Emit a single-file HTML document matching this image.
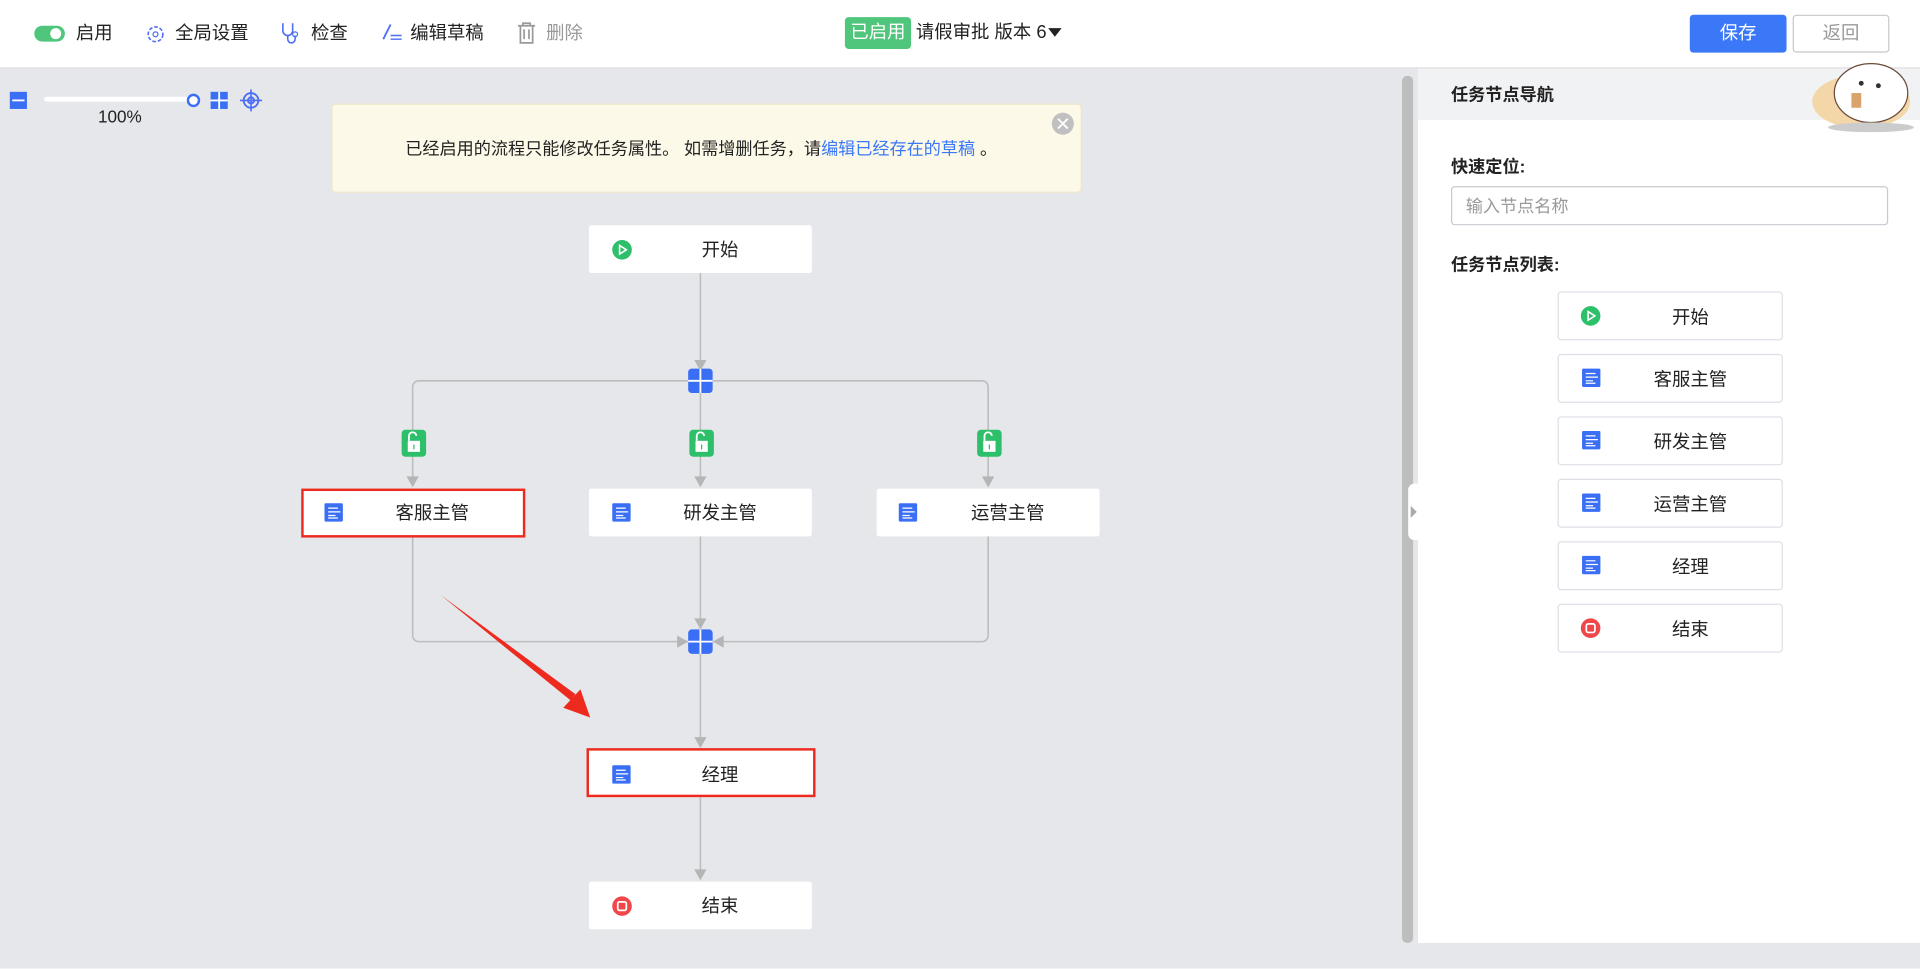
<!DOCTYPE html>
<html><head><meta charset="utf-8"><style>
html,body{margin:0;padding:0;width:1920px;height:969px;overflow:hidden;background:#fff}
#w{position:absolute;left:0;top:0;width:1568px;height:791px;transform:scale(1.22449);transform-origin:0 0;font-family:"Liberation Sans","Noto Sans CJK SC",sans-serif;color:#222}
.a{position:absolute}
.t{font-size:15px;line-height:20px;white-space:nowrap}
.li{position:absolute;left:1272px;width:182px;height:38px;border:1px solid #dcdfe6;border-radius:3px;background:#fff}
.li span{position:absolute;left:0;width:215px;text-align:center;top:9px;font-size:15px}
</style></head><body><div id="w">
<!-- top bar -->
<div class="a" style="left:0;top:0;width:1568px;height:55px;background:#fff;border-bottom:1px solid #dcdcdc"></div>
<div class="a" style="left:28px;top:21px;width:25px;height:13px;border-radius:7px;background:#4fc67c"></div>
<div class="a" style="left:41px;top:23px;width:9px;height:9px;border-radius:5px;background:#fff"></div>
<div class="a t" style="left:62px;top:18px">启用</div>
<svg class="a" style="left:118px;top:19px" width="18" height="18"><circle cx="9" cy="9" r="6" fill="none" stroke="#4b6ef5" stroke-width="1.3" stroke-dasharray="3 1.5"/><circle cx="9" cy="9" r="2" fill="none" stroke="#4b6ef5"/></svg>
<div class="a t" style="left:143px;top:18px">全局设置</div>
<svg class="a" style="left:228px;top:17px" width="20" height="20"><path d="M3 2v6a4 4 0 0 0 8 0V2M7 12v3a3 3 0 0 0 6 0v-3" fill="none" stroke="#4b6ef5" stroke-width="1.3"/><circle cx="13" cy="11" r="2" fill="none" stroke="#4b6ef5"/></svg>
<div class="a t" style="left:254px;top:18px">检查</div>
<svg class="a" style="left:310px;top:17px" width="20" height="20"><path d="M3 15L9 3" stroke="#4b6ef5" stroke-width="1.5"/><path d="M9 12h9M9 15h9" stroke="#4b6ef5" stroke-width="1.2"/></svg>
<div class="a t" style="left:335px;top:18px">编辑草稿</div>
<svg class="a" style="left:421px;top:17px" width="18" height="20"><path d="M2 4h14M6 4V2h6v2M4 4v14h10V4M7 7v8M11 7v8" fill="none" stroke="#999" stroke-width="1.4"/></svg>
<div class="a t" style="left:446px;top:18px;color:#999">删除</div>
<div class="a" style="left:690px;top:14px;width:54px;height:26px;background:#4fc67c;border-radius:3px;color:#fff;font-size:15px;line-height:26px;text-align:center">已启用</div>
<div class="a t" style="left:748px;top:17px">请假审批 版本 6</div>
<svg class="a" style="left:856px;top:22px" width="12" height="10"><path d="M0 1h11L5.5 8z" fill="#222"/></svg>
<div class="a" style="left:1380px;top:12px;width:79px;height:31px;background:#3a78f7;border-radius:3px;color:#fff;font-size:15px;line-height:31px;text-align:center">保存</div>
<div class="a" style="left:1464px;top:12px;width:77px;height:29px;border:1px solid #c8c8c8;border-radius:3px;color:#999;font-size:15px;line-height:29px;text-align:center">返回</div>
<!-- canvas -->
<div class="a" style="left:0;top:56px;width:1158px;height:735px;background:#e6e7eb"></div>
<div class="a" style="left:1158px;top:770px;width:410px;height:21px;background:#e6e7eb"></div>
<div class="a" style="left:1145px;top:62px;width:9px;height:708px;background:#bdbdbd;border-radius:4px"></div>
<!-- right panel -->
<div class="a" style="left:1158px;top:56px;width:410px;height:714px;background:#fff"></div>
<div class="a" style="left:1158px;top:56px;width:410px;height:42px;background:#f1f2f4"></div>
<div class="a" style="left:1185px;top:67px;font-size:14px;font-weight:bold;line-height:20px">任务节点导航</div>
<div class="a" style="left:1185px;top:126px;font-size:14px;font-weight:bold;line-height:20px">快速定位:</div>
<div class="a" style="left:1185px;top:152px;width:355px;height:30px;border:1px solid #c8cad0;border-radius:3px"></div>
<div class="a" style="left:1197px;top:158px;font-size:14px;color:#999;line-height:20px">输入节点名称</div>
<div class="a" style="left:1185px;top:206px;font-size:14px;font-weight:bold;line-height:20px">任务节点列表:</div>
<div class="a" style="left:1150px;top:395px;width:10px;height:46px;background:#fff;border-radius:5px 0 0 5px"></div>
<svg class="a" style="left:1152px;top:413px" width="6" height="10"><path d="M0 0l5 5-5 5z" fill="#aaa"/></svg>
<!-- avatar -->
<svg class="a" style="left:1478px;top:38px" width="90" height="70"><ellipse cx="42" cy="45" rx="40" ry="22" fill="#f3d7a8"/><ellipse cx="50" cy="38" rx="30" ry="24" fill="#fff" stroke="#6a4a3a" stroke-width="1"/><circle cx="42" cy="30" r="2" fill="#333"/><circle cx="56" cy="32" r="2" fill="#333"/><rect x="34" y="38" width="8" height="12" fill="#d9a36b"/><ellipse cx="50" cy="66" rx="35" ry="4" fill="#ccc"/></svg>
<div class="li" style="top:238px"><span>开始</span></div>
<div class="li" style="top:289px"><span>客服主管</span></div>
<div class="li" style="top:340px"><span>研发主管</span></div>
<div class="li" style="top:391px"><span>运营主管</span></div>
<div class="li" style="top:442px"><span>经理</span></div>
<div class="li" style="top:493px"><span>结束</span></div>
<svg class="a" style="left:0;top:0" width="1568" height="791">
<defs>
<g id="doc"><rect x="0" y="0" width="15" height="15" rx="1" fill="#3a6ff5"/><path d="M3 4h8M3 7h10M3 10h6M3 12h8" stroke="#fff" stroke-width="1"/></g>
<g id="st"><circle cx="0" cy="0" r="8" fill="#2dbf6a"/><path d="M-2 -3.5v7l5.5-3.5z" fill="none" stroke="#fff" stroke-width="1.3"/></g>
<g id="en"><circle cx="0" cy="0" r="8" fill="#f0474a"/><rect x="-3.5" y="-3.5" width="7" height="7" rx="1.5" fill="none" stroke="#fff" stroke-width="1.4"/></g>
<g id="gw"><rect x="-10" y="-10" width="20" height="20" rx="3" fill="#3a6ff5"/><path d="M-10 0h20M0 -10v20" stroke="#fff" stroke-width="1.5"/></g>
<g id="lk"><rect x="-10" y="-11" width="20" height="22" rx="3" fill="#2dbf6a"/><rect x="-5" y="-2" width="10" height="9" fill="#fff"/><path d="M-4 -2v-4a3 3 0 0 1 6 0" fill="none" stroke="#fff" stroke-width="1.5"/><path d="M0 1v4" stroke="#2dbf6a"/></g>
<g id="ar"><path d="M-5 -9L5 -9L0 0z" fill="#b5b5b5"/></g>
</defs>
<!-- zoom controls -->
<rect x="8" y="75" width="14" height="14" fill="#3a6ff5"/><path d="M10 82h10" stroke="#fff" stroke-width="1.5"/>
<rect x="36" y="79" width="120" height="4" rx="2" fill="#fff"/>
<circle cx="158" cy="82" r="4.5" fill="#fff" stroke="#3a6ff5" stroke-width="2"/>
<rect x="172" y="75" width="14" height="14" fill="#3a6ff5"/><path d="M172 82h14M179 75v14" stroke="#fff" stroke-width="1.5"/>
<circle cx="205" cy="82" r="6" fill="none" stroke="#4b6ef5" stroke-width="1.5"/><circle cx="205" cy="82" r="2.5" fill="none" stroke="#4b6ef5" stroke-width="1.5"/><path d="M205 73v18M196 82h18" stroke="#4b6ef5" stroke-width="1.3"/>
<text x="80" y="100" font-size="14" fill="#222">100%</text>
<!-- notice -->
<rect x="271" y="85" width="612" height="72" rx="3" fill="#fdf9e8" stroke="#eee6c8"/>
<text x="331" y="126" font-size="14" fill="#222">已经启用的流程只能修改任务属性。 如需增删任务，请<tspan fill="#3a78f7">编辑已经存在的草稿</tspan> 。</text>
<circle cx="868" cy="101" r="9" fill="#c0c0c0"/><path d="M864 97l8 8M872 97l-8 8" stroke="#fff" stroke-width="1.5"/>
<!-- lines -->
<g stroke="#bdbdbd" stroke-width="1.3" fill="none">
<path d="M572 223V303"/>
<path d="M337 390V316a5 5 0 0 1 5-5H802a5 5 0 0 1 5 5V390"/>
<path d="M572 321V390"/>
<path d="M337 438V519a5 5 0 0 0 5 5H562M807 438V519a5 5 0 0 1-5 5H582"/>
<path d="M572 438V515M572 534V603M572 650V711"/>
</g>
<use href="#ar" x="572" y="303"/>
<use href="#ar" x="337" y="398"/><use href="#ar" x="572" y="398"/><use href="#ar" x="807" y="398"/>
<use href="#ar" x="572" y="514"/>
<path d="M553 519v10l9-5z M591 519v10l-9-5z" fill="#b5b5b5"/>
<use href="#ar" x="572" y="611"/><use href="#ar" x="572" y="719"/>
<use href="#gw" x="572" y="311"/><use href="#gw" x="572" y="524"/>
<use href="#lk" x="338" y="362"/><use href="#lk" x="573" y="362"/><use href="#lk" x="808" y="362"/>
<!-- nodes -->
<rect x="481" y="184" width="182" height="39" rx="2" fill="#fff"/>
<rect x="247" y="400" width="181" height="38" fill="#fff" stroke="#ee2a1f" stroke-width="2"/>
<rect x="481" y="399" width="182" height="39" rx="2" fill="#fff"/>
<rect x="716" y="399" width="182" height="39" rx="2" fill="#fff"/>
<rect x="480" y="612" width="185" height="38" fill="#fff" stroke="#ee2a1f" stroke-width="2"/>
<rect x="481" y="720" width="182" height="39" rx="2" fill="#fff"/>
<use href="#st" x="508" y="204"/>
<use href="#doc" x="265" y="411"/><use href="#doc" x="500" y="411"/><use href="#doc" x="734" y="411"/><use href="#doc" x="500" y="625"/>
<use href="#en" x="508" y="740"/>
<g font-size="15" fill="#222" text-anchor="middle">
<text x="588" y="209">开始</text><text x="353" y="424">客服主管</text><text x="588" y="424">研发主管</text><text x="823" y="424">运营主管</text><text x="588" y="638">经理</text><text x="588" y="745">结束</text>
</g>
<!-- list icons -->
<use href="#st" x="1299" y="258"/>
<use href="#doc" x="1292" y="301"/><use href="#doc" x="1292" y="352"/><use href="#doc" x="1292" y="403"/><use href="#doc" x="1292" y="454"/>
<use href="#en" x="1299" y="513"/>
<!-- red arrow -->
<path d="M360 486L466 572L470 567Z" fill="#ee2a1f"/>
<path d="M482 586L460 578L474 563Z" fill="#ee2a1f"/>
</svg>
</div></body></html>
